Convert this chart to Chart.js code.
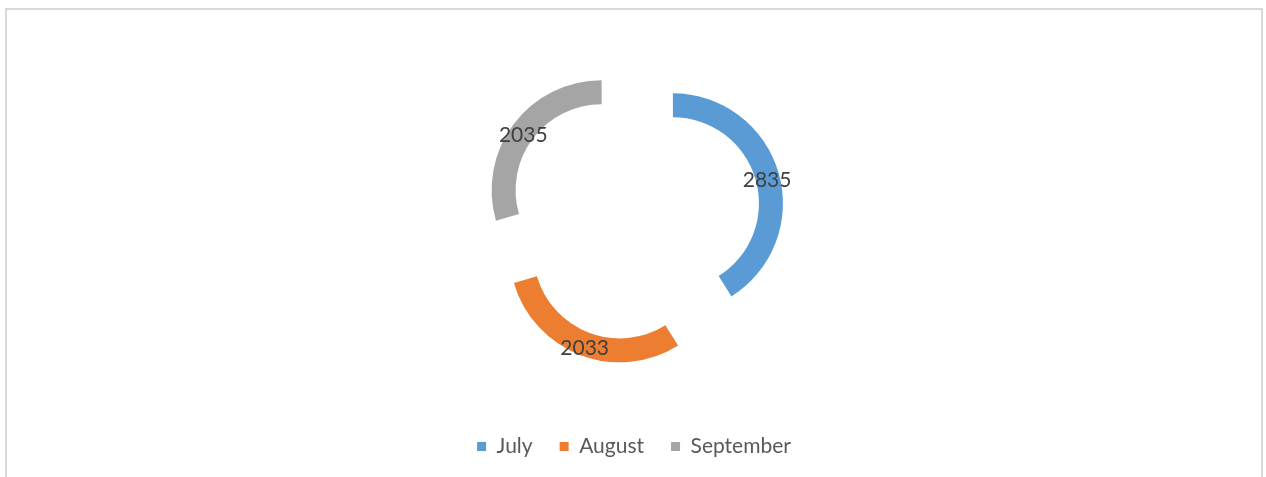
<!DOCTYPE html>
<html>
<head>
<meta charset="utf-8">
<script src="https://cdn.jsdelivr.net/npm/chart.js@4/dist/chart.umd.min.js"></script>
<style>
  html, body { margin: 0; padding: 0; background: #fff; }
  #frame {
    position: absolute; left: 5px; top: 8px;
    width: 1258px; height: 480px;
    box-sizing: border-box;
    border: 2px solid #d9d9d9; border-bottom: none;
  }
  #wrap { position: absolute; left: 0; top: 0; width: 1266px; height: 477px; }
</style>
</head>
<body>
<div id="frame"></div>
<div id="wrap"><canvas id="chart"></canvas></div>
<script>
const months = ['July', 'August', 'September'];
const totals = [2835, 2033, 2035];
const colours = ['#5B9BD5', '#ED7D31', '#A5A5A5'];

// push every slice out along its bisector (Chart.js "offset" only moves it a quarter)
const explode = {
  id: 'explode',
  afterDatasetUpdate(chart, args, opts) {
    args.meta.data.forEach(arc => {
      const mid = (arc.startAngle + arc.endAngle) / 2;
      arc.x += Math.cos(mid) * opts.distance;
      arc.y += Math.sin(mid) * opts.distance;
    });
  }
};

// value in the middle of each ring piece
const valueLabels = {
  id: 'valueLabels',
  afterDatasetsDraw(chart, args, opts) {
    const ctx = chart.ctx;
    const values = chart.data.datasets[0].data;
    ctx.save();
    ctx.font = opts.font;
    ctx.fillStyle = opts.color;
    ctx.textAlign = 'center';
    ctx.textBaseline = 'middle';
    chart.getDatasetMeta(0).data.forEach((arc, i) => {
      const mid = (arc.startAngle + arc.endAngle) / 2;
      const r = (arc.innerRadius + arc.outerRadius) / 2;
      ctx.fillText(values[i], arc.x + Math.cos(mid) * r, arc.y + Math.sin(mid) * r + opts.dy);
    });
    ctx.restore();
  }
};

new Chart(document.getElementById('chart'), {
  type: 'doughnut',
  data: {
    labels: months,
    datasets: [{
      data: totals,
      backgroundColor: colours,
      borderWidth: 0,
      hoverOffset: 0
    }]
  },
  options: {
    responsive: true,
    maintainAspectRatio: false,
    animation: false,
    radius: 110,
    cutout: '78.2%',
    layout: { padding: { top: 20, bottom: 10, left: 2, right: 0 } },
    plugins: {
      explode: { distance: 40.5 },
      valueLabels: { font: '21px Lato', color: '#404040', dy: 4 },
      tooltip: { enabled: false },
      legend: {
        position: 'bottom',
        labels: {
          boxWidth: 9,
          boxHeight: 9,
          padding: 27,
          color: '#595959',
          font: { family: 'Lato', size: 21 }
        }
      }
    }
  },
  plugins: [explode, valueLabels]
});
</script>
</body>
</html>
